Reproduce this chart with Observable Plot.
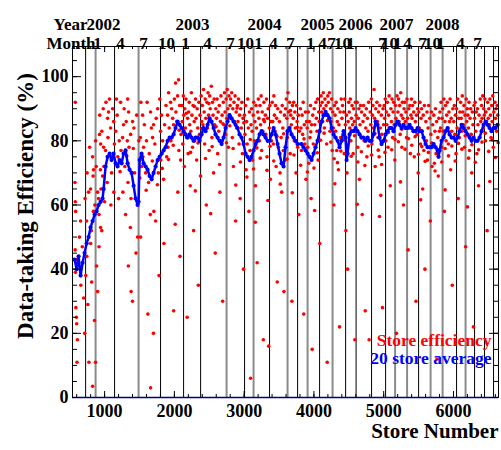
<!DOCTYPE html>
<html><head><meta charset="utf-8">
<script src="https://cdn.jsdelivr.net/npm/d3@7"></script>
<script src="https://cdn.jsdelivr.net/npm/@observablehq/plot@0.6"></script>
<style>body{margin:0;background:#fff}</style>
</head><body><div id="chart"></div>
<script>
// ---- data ----
const storeEfficiency = [
[580,92],[575,67],[580,61],[585,58],[578,46],[590,43],[582,39],[588,28],[595,25],[600,23],[610,18],[605,11],
[640,50],[660,35],[680,47],[700,31],[715,20],[730,38],[745,44],[760,29],[775,11],[800,48],[815,36],[828,3.5],[840,58],[855,24],[870,11],[885,41],[900,33],[920,47],[940,71],[960,52],
[785,78],[828,75],[842,71],[835,69],[799,65],[771,64],[900,64],[914,62],[742,55],[656,55],[920,57],[943,53],[871,80],[928,82],[943,79],[986,78],[1043,87],[1057,89],[1115,90],[1129,86],[1086,84],[1048,81],[1014,77],[990,72],[971,69],[948,65],[1038,67],[1133,64],[1090,60],[1201,62],[1229,92],[1330,93],[1344,89],[1272,85],[1258,81],[1325,80],[1373,82],[1401,86],[1235,77],[1335,67],[1262,64],[1378,62],[1301,57],[1369,53],[1473,50],[1516,50],[1520,92],[1545,88],[1512,81],[1559,78],[1549,75],[1588,70],[1631,67],[1659,89],[1702,85],[1688,81],[1655,57],[1706,58],[1731,55],[1760,90],[1802,83],[1831,80],[1806,74],[1846,68],[1903,88],[1917,95],[1946,92],[1975,87],[1950,80],[1908,78],[2017,98],[2060,99],[2046,94],[2022,89],[1989,85],[2064,77],[2089,74],[2050,64],[2012,54],
[1340,41],[1380,33],[1400,30],[1450,45],[1620,26],[1659,3],[1700,20],[1780,38],[1850,48],[1990,27],[2080,44],
[1160,83],[1180,88],[1190,75],[1210,80],[1280,90],[1290,72],[1310,86],[1350,78],[1420,84],[1430,70],[1460,88],[1490,80],[1530,72],[1570,85],[1600,80],[1610,92],[1640,76],[1670,84],[1720,79],[1740,87],[1770,70],[1790,93],[1815,88],[1860,85],[1880,91],[1890,75],[1925,84],[1960,90],[2000,93],[2035,86],[2075,91],[2095,82],
[720,62],[750,70],[810,52],[860,60],[880,72],[930,88],[960,83],[980,90],[1000,61],[1020,92],[1070,93],[1100,70],[1140,79],[1170,93],
[2105,91],[2112,86],[2120,79],[2128,94],[2135,88],[2143,72],[2150,90],[2158,84],[2166,93],[2175,81],[2183,25],[2190,87],[2197,76],
[2205,89],[2213,92],[2220,85],[2228,66],[2236,83],[2244,95],[2252,88],[2260,78],[2268,91],[2276,52],[2284,86],[2292,80],
[2303,93],[2311,87],[2319,74],[2327,90],[2335,84],[2343,35],[2351,92],[2359,82],[2367,88],[2375,69],[2384,94],[2392,86],
[2402,91],[2410,85],[2418,96],[2426,89],[2434,79],[2442,93],[2450,87],[2458,60],[2466,92],[2474,84],[2482,95],[2490,88],[2498,77],
[2506,94],[2514,90],[2522,86],[2530,97],[2538,81],[2546,92],[2554,88],[2562,70],[2570,93],[2578,85],[2586,45],[2594,90],
[2604,87],[2612,93],[2620,76],[2628,89],[2636,83],[2644,91],[2652,64],[2660,86],[2668,94],[2676,80],[2684,88],[2692,30],
[2702,92],[2710,85],[2718,95],[2726,89],[2734,82],[2742,93],[2750,87],[2758,96],[2766,90],[2774,78],[2782,94],[2790,88],[2798,91],
[2806,93],[2814,87],[2822,95],[2830,81],[2838,90],[2846,72],[2854,92],[2862,86],[2870,94],[2878,55],[2886,89],[2894,84],
[2903,91],[2911,86],[2919,93],[2927,79],[2935,88],[2943,62],[2951,90],[2959,84],[2967,92],[2975,76],[2983,87],[2991,40],
[3004,88],[3012,82],[3020,91],[3028,71],[3036,86],[3044,79],[3052,93],[3060,84],[3068,58],[3076,89],[3084,77],[3092,6],[3098,85],
[3106,90],[3114,83],[3122,74],[3130,88],[3138,92],[3146,80],[3154,86],[3162,66],[3170,91],[3178,84],[3186,42],[3194,89],
[3203,93],[3211,87],[3219,80],[3227,91],[3235,85],[3243,94],[3251,77],[3259,89],[3267,83],[3275,18],[3283,92],[3291,86],
[3304,88],[3312,82],[3320,93],[3328,75],[3336,87],[3344,90],[3352,16],[3360,84],[3368,91],[3376,68],[3384,86],[3392,80],
[3402,92],[3410,86],[3418,79],[3426,94],[3434,88],[3442,83],[3450,91],[3458,72],[3466,87],[3474,36],[3482,90],[3490,78],
[3506,86],[3514,70],[3522,89],[3530,81],[3538,64],[3546,91],[3554,84],[3562,77],[3570,33],[3578,88],[3586,74],[3594,90],
[3604,93],[3612,87],[3620,81],[3628,95],[3636,89],[3644,84],[3652,92],[3660,76],[3668,88],[3676,85],[3684,30],[3692,91],
[3703,87],[3711,92],[3719,80],[3727,89],[3735,84],[3743,70],[3751,91],[3759,86],[3767,78],[3775,88],[3783,57],[3791,83],
[3806,90],[3814,84],[3822,77],[3830,88],[3838,82],[3846,92],[3854,26],[3862,85],[3870,79],[3878,89],[3886,68],[3894,86],
[3903,84],[3911,78],[3919,89],[3927,73],[3935,86],[3943,81],[3951,91],[3959,62],[3967,85],[3975,15],[3983,88],[3991,79],
[4004,90],[4012,85],[4020,78],[4028,92],[4036,87],[4044,83],[4052,93],[4060,74],[4068,89],[4076,86],[4084,48],[4092,91],
[4102,94],[4110,89],[4118,92],[4126,86],[4134,95],[4142,90],[4150,84],[4158,93],[4166,88],[4174,91],[4182,79],[4190,11],[4198,94],
[4206,92],[4214,87],[4222,95],[4230,83],[4238,90],[4246,86],[4254,93],[4262,77],[4270,89],[4278,84],[4286,60],[4294,91],
[4303,88],[4311,83],[4319,92],[4327,77],[4335,86],[4343,90],[4351,71],[4359,85],[4367,22],[4375,89],[4383,81],[4391,93],
[4402,87],[4410,91],[4418,82],[4426,89],[4434,76],[4442,93],[4450,85],[4458,52],[4466,88],[4474,70],[4482,40],[4490,86],[4498,92],
[4506,89],[4514,84],[4522,93],[4530,80],[4538,87],[4546,91],[4554,85],[4562,76],[4570,90],[4578,86],[4586,18],[4594,92],
[4604,88],[4612,83],[4620,92],[4628,78],[4636,87],[4644,90],[4652,68],[4660,85],[4668,91],[4676,81],[4684,89],[4692,57],
[4703,86],[4711,91],[4719,80],[4727,88],[4735,27],[4743,84],[4751,90],[4759,75],[4767,87],[4775,83],[4783,92],[4791,18],
[4806,89],[4814,85],[4822,93],[4830,79],[4838,88],[4846,91],[4854,84],[4862,96],[4870,87],[4878,72],[4886,90],[4894,86],
[4902,92],[4910,86],[4918,81],[4926,89],[4934,75],[4942,91],[4950,84],[4958,63],[4966,88],[4974,82],[4982,28],[4990,90],[4998,85],
[5006,91],[5014,87],[5022,93],[5030,80],[5038,89],[5046,85],[5054,92],[5062,78],[5070,88],[5078,94],[5086,84],[5094,66],
[5103,90],[5111,86],[5119,93],[5127,81],[5135,89],[5143,92],[5151,85],[5159,74],[5167,91],[5175,87],[5183,20],[5191,94],
[5204,89],[5212,93],[5220,86],[5228,91],[5236,82],[5244,95],[5252,88],[5260,78],[5268,92],[5276,87],[5284,60],[5292,90],
[5302,92],[5310,86],[5318,89],[5326,81],[5334,93],[5342,87],[5350,46],[5358,90],[5366,84],[5374,91],[5382,76],[5390,88],[5398,93],
[5406,87],[5414,91],[5422,83],[5430,89],[5438,75],[5446,92],[5454,86],[5462,30],[5470,88],[5478,82],[5486,90],[5494,70],
[5503,89],[5511,84],[5519,92],[5527,79],[5535,87],[5543,90],[5551,83],[5559,65],[5567,88],[5575,77],[5583,91],[5591,40],
[5604,86],[5612,80],[5620,89],[5628,74],[5636,84],[5644,91],[5652,78],[5660,87],[5668,55],[5676,82],[5684,89],[5692,72],
[5702,85],[5710,79],[5718,88],[5726,73],[5734,83],[5742,90],[5750,76],[5758,86],[5766,12],[5774,81],[5782,69],[5790,87],[5798,83],
[5806,89],[5814,84],[5822,92],[5830,78],[5838,87],[5846,90],[5854,83],[5862,93],[5870,58],[5878,86],[5886,91],[5894,80],
[5903,88],[5911,92],[5919,84],[5927,79],[5935,89],[5943,86],[5951,93],[5959,71],[5967,87],[5975,83],[5983,35],[5991,90],
[6004,86],[6012,91],[6020,82],[6028,88],[6036,76],[6044,90],[6052,84],[6060,93],[6068,62],[6076,87],[6084,81],[6092,89],
[6102,92],[6110,87],[6118,83],[6126,94],[6134,89],[6142,85],[6150,91],[6158,78],[6166,88],[6174,47],[6182,93],[6190,86],[6198,90],
[6206,88],[6214,84],[6222,92],[6230,77],[6238,87],[6246,90],[6254,82],[6262,70],[6270,89],[6278,85],[6286,22],[6294,91],
[6303,87],[6311,92],[6319,83],[6327,89],[6335,76],[6343,90],[6351,85],[6359,66],[6367,88],[6375,81],[6383,93],[6391,86],
[6402,91],[6410,87],[6418,94],[6426,84],[6434,90],[6442,88],[6450,93],[6458,80],[6466,89],[6474,86],[6482,52],[6490,92],[6498,87],
[6506,90],[6514,85],[6522,93],[6530,88],[6538,81],[6546,91],[6554,86],[6562,94],[6570,78],[6578,89],[6586,84],[6594,92],[6602,87],[6610,90],[6618,83],[6626,91],[6634,88],
// additional stores filling the mid band
[2124,82.5],[2171,88.6],[2232,76.4],[2288,90.7],[2339,79.3],[2396,83.8],[2446,74.5],[2494,91.6],[2541,78.2],[2598,84.4],
[2648,72.6],[2696,85.3],[2746,79.4],[2794,84.7],[2842,77.6],[2898,90.2],[2947,73.4],[2995,85.6],[3040,68.7],[3088,80.4],
[3134,71.2],[3182,77.8],[3231,74.6],[3279,86.6],[3327,70.8],[3372,78.3],[3424,73.7],[3470,81.4],[3518,66.5],[3566,82.2],
[3616,74.3],[3664,89.4],[3714,75.6],[3762,84.2],[3810,72.4],[3858,80.6],[3906,70.3],[3955,82.8],[4000,71.5],[4048,76.3],
[4096,80.2],[4146,82.4],[4194,86.3],[4242,79.6],[4290,74.4],[4338,73.2],[4386,76.8],[4438,80.3],[4486,78.7],[4534,75.2],
[4582,81.6],[4630,73.4],[4680,76.6],[4730,72.3],[4778,78.4],[4826,75.6],[4874,82.3],[4922,77.1],[4970,72.6],[5018,76.4],
[5066,82.6],[5114,77.2],[5162,80.4],[5210,79.7],[5258,83.6],[5306,77.4],[5354,80.7],[5402,78.6],[5450,81.3],[5498,75.8],
[5546,78.2],[5594,73.6],[5640,76.4],[5688,79.3],[5736,70.6],[5784,75.2],[5832,73.4],[5880,77.6],[5928,75.3],[5976,78.4],
[6024,73.7],[6072,79.2],[6120,77.4],[6168,81.6],[6216,74.6],[6264,78.8],[6312,73.3],[6360,77.2],[6408,79.6],[6456,82.4],
[6504,76.7],[6552,80.3],[6600,74.8],[6640,79.4],
[1110,74.6],[1222,70.4],[1318,75.3],[1412,77.6],[1506,68.4],[1596,64.6],[1684,73.7],[1756,66.3],[1826,71.4],[1916,74.2],
[1984,78.6],[2068,83.3],[2300,64.4],[2520,57.3],[2880,66.2],[3160,54.6],[3340,61.4],[3690,63.8],[4010,58.3],[4300,66.6],
[4620,60.2],[4940,56.4],[5240,67.2],[5530,61.6],[5880,64.7],[6200,59.4],[6520,67.3]
];

const storeAverage20 = [
[570,43],[599,40],[627,44],[656,38],[685,42],[713,45],[742,48],[771,50],[799,53],[828,55],[857,57],[885,58],[914,60],[943,61],[971,62],[986,65],
[1014,72],[1043,75],[1072,76],[1100,74],[1129,76],[1158,73],[1186,72],[1215,74],[1244,73],[1272,76],[1301,77],[1330,73],[1358,71],[1387,70],[1416,66],[1444,62],[1473,60],[1487,61],
[1502,74],[1530,76],[1559,73],[1588,72],[1616,71],[1645,69],[1674,68],[1702,70],[1731,72],[1760,74],[1788,75],[1817,76],[1846,77],[1874,78],[1903,80],[1932,81],[1960,81],[1989,82],
[2017,84],[2046,86],[2075,85],[2103,84],[2132,83],[2160,82],[2189,81],[2218,82],[2246,81],[2275,80],[2304,81],[2332,81],[2361,80],[2390,82],[2418,84],[2447,83],[2476,85],[2504,87],
[2533,86],[2562,84],[2590,82],[2619,81],[2648,80],[2677,79],[2705,81],[2734,84],[2762,86],[2791,88],[2820,87],[2848,86],[2877,85],[2906,84],[2934,82],[2963,81],[2992,79],
[3020,76],[3049,75],[3078,74],[3106,75],[3135,77],[3164,79],[3192,80],[3221,82],[3250,83],[3278,82],[3307,81],[3336,80],[3364,80],[3393,82],[3422,84],[3450,82],[3479,79],
[3507,76],[3536,73],[3565,72],[3593,78],[3622,83],[3651,84],[3679,82],[3708,81],[3737,80],[3765,79],[3823,79],[3851,78],[3880,77],[3909,76],[3937,75],[3966,74],[3995,76],
[4023,78],[4052,80],[4081,83],[4109,86],[4138,88],[4167,89],[4195,88],[4224,87],[4253,84],[4281,82],[4310,81],[4339,80],[4367,78],[4396,80],[4425,83],[4453,81],[4468,74],[4482,76],
[4511,82],[4539,83],[4568,83],[4597,84],[4625,83],[4654,82],[4683,81],[4711,81],[4740,80],[4769,81],[4797,80],[4826,80],[4855,82],[4883,86],[4912,85],[4941,81],[4969,79],[4998,80],
[5027,82],[5055,83],[5084,84],[5113,84],[5141,83],[5170,85],[5199,86],[5227,85],[5256,84],[5285,85],[5313,84],[5342,84],[5371,85],[5399,84],[5428,83],[5457,83],[5485,84],
[5514,83],[5543,83],[5571,81],[5600,79],[5629,78],[5657,78],[5686,78],[5715,79],[5743,78],[5772,77],[5786,75],[5801,77],[5829,80],[5858,81],[5887,83],[5915,84],[5944,82],[5973,81],
[6001,81],[6030,80],[6059,81],[6087,83],[6116,85],[6145,84],[6173,83],[6202,82],[6231,81],[6259,80],[6288,81],[6317,80],[6345,80],[6374,81],[6403,83],[6431,85],[6460,86],[6489,85],
[6517,84],[6546,83],[6575,84],[6603,84],[6632,85]
];

const periodLinesBlack = [728,1143,1802,2132,2376,3006,3364,3766,4081,4454,4604,4826,5027,5500,6044,6302,6445,6574];
const periodLinesGray = [871,1487,2748,3135,3622,3909,4267,5163,5335,5672,5844,6173];

const monthTickStores = [900,1229,1559,1888, 2161,2476,2806,3021, 3207,3422,3665, 3952,4124,4253,4411, 4525,4984,5084, 5199,5342,5557,5700, 5815,6101,6345];
const monthTickLabels = ["1","4","7","10", "1","4","7","10", "1","4","7", "1","4","7","10", "1","7","10", "1","4","7","10", "1","4","7"];
const yearStores = [986,2261,3293,4052,4597,5184,5844];
const yearLabels = ["2002","2003","2004","2005","2006","2007","2008"];

const xTicks = [1000,2000,3000,4000,5000,6000];
const xMinorTicks = d3.range(600, 6641, 200);
const yTicks = [0,20,40,60,80,100];
const yMinorTicks = d3.range(0, 109, 5);

// ---- layout ----
const W = 501, H = 450, mt = 46, mr = 3, mb = 53, ml = 72;
const ph = H - mt - mb, pw = W - ml - mr;
const font = "'Liberation Serif', 'Times New Roman', serif";

const chart = Plot.plot({
  width: W, height: H,
  marginTop: mt, marginRight: mr, marginBottom: mb, marginLeft: ml,
  x: {domain: [540, 6645]},
  y: {domain: [0, 109.4]},
  style: {fontFamily: font, fontWeight: "bold", fontSize: "18px", color: "#000", background: "#fff", overflow: "visible"},
  marks: [
    Plot.ruleX(periodLinesBlack, {x: d => d, stroke: "#000", strokeWidth: 1}),
    Plot.ruleX(periodLinesGray, {x: d => d, stroke: "#8a8a8a", strokeWidth: 2}),
    Plot.dot(storeEfficiency, {x: d => d[0], y: d => d[1], r: 1.8, fill: "#ff0000"}),
    Plot.line(storeAverage20, {x: d => d[0], y: d => d[1], stroke: "#0000ff", strokeWidth: 2.5}),
    Plot.dot(storeAverage20, {x: d => d[0], y: d => d[1], r: 2.1, fill: "#0000ff"}),
    Plot.frame({stroke: "#000", strokeWidth: 1}),
    Plot.ruleY([0], {stroke: "#000080", strokeWidth: 1.5}),
    // inward ticks, mirrored on all four sides
    Plot.tickX(xTicks, {x: d => d, insetTop: ph - 6, stroke: "#000"}),
    Plot.tickX(xTicks, {x: d => d, insetBottom: ph - 6, stroke: "#000"}),
    Plot.tickX(xMinorTicks, {x: d => d, insetTop: ph - 3, stroke: "#000"}),
    Plot.tickX(xMinorTicks, {x: d => d, insetBottom: ph - 3, stroke: "#000"}),
    Plot.tickY(yTicks, {y: d => d, insetRight: pw - 9, stroke: "#000"}),
    Plot.tickY(yTicks, {y: d => d, insetLeft: pw - 9, stroke: "#000"}),
    Plot.tickY(yMinorTicks, {y: d => d, insetRight: pw - 5, stroke: "#000"}),
    Plot.tickY(yMinorTicks, {y: d => d, insetLeft: pw - 5, stroke: "#000"}),
    Plot.axisX(xTicks, {tickSize: 0, tickPadding: 7, label: null, tickFormat: d => String(d), fontSize: 18, fontWeight: "bold"}),
    Plot.axisY(yTicks, {tickSize: 0, tickPadding: 4, label: null, tickFormat: d => String(d), fontSize: 18, fontWeight: "bold"}),
    // top time axis labels
    Plot.text(monthTickStores, {x: d => d, text: (d, i) => monthTickLabels[i], frameAnchor: "top", dy: -10, fontSize: 17, fontWeight: "bold", fill: "#000"}),
    Plot.text(yearStores, {x: d => d, text: (d, i) => yearLabels[i], frameAnchor: "top", dy: -29, fontSize: 17, fontWeight: "bold", fill: "#000"}),
    Plot.text(["Year"], {frameAnchor: "top-left", textAnchor: "end", dx: 15, dy: -29, fontSize: 17, fontWeight: "bold"}),
    Plot.text(["Month"], {frameAnchor: "top-left", textAnchor: "end", dx: 23, dy: -10, fontSize: 17, fontWeight: "bold"}),
    // axis titles
    Plot.text(["Data-taking Efficiency (%)"], {frameAnchor: "left", textAnchor: "middle", rotate: -90, dx: -47, dy: -16, fontSize: 23, fontWeight: "bold"}),
    Plot.text(["Store Number"], {frameAnchor: "bottom-right", textAnchor: "end", dy: 40, fontSize: 21, fontWeight: "bold"}),
    // legend
    Plot.text(["Store efficiency"], {frameAnchor: "bottom-right", textAnchor: "end", dx: -7, dy: -52, fontSize: 17.5, fontWeight: "bold", fill: "#ff0000"}),
    Plot.text(["20 store average"], {frameAnchor: "bottom-right", textAnchor: "end", dx: -7, dy: -34, fontSize: 17.5, fontWeight: "bold", fill: "#0000ff"})
  ]
});
document.getElementById("chart").appendChild(chart);
</script>
</body></html>
